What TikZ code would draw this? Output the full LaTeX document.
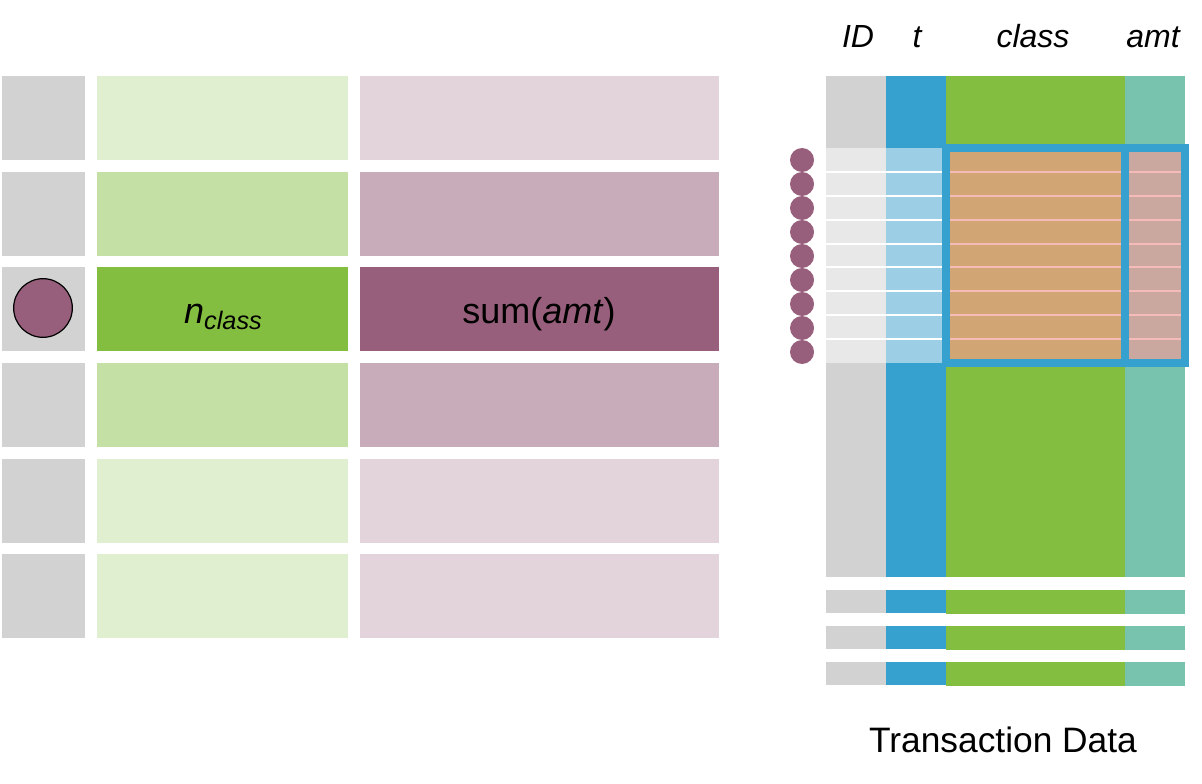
\documentclass[tikz,border=0pt]{standalone}
\usepackage{fontspec}
\setmainfont{Liberation Sans}
\usepackage{xcolor}
\definecolor{txgray}{HTML}{D2D2D2}
\definecolor{txpale}{HTML}{E8E8E8}
\definecolor{txblue}{HTML}{36A1CF}
\definecolor{txsky}{HTML}{9CCFE5}
\definecolor{txgreen}{HTML}{84BE41}
\definecolor{txteal}{HTML}{77C3AE}
\definecolor{txorange}{HTML}{D1A574}
\definecolor{txrose}{HTML}{CBA89F}
\definecolor{txpink}{HTML}{F5BBB8}
\definecolor{txplum}{HTML}{975F7B}
\usepackage{tikz}

\begin{document}
\begin{tikzpicture}[x=0.75pt, y=-0.75pt, every node/.style={inner sep=0pt},
  hdr/.style={font=\fontsize{24}{28}\selectfont\itshape, anchor=base},
  big/.style={font=\fontsize{27}{32}\selectfont, anchor=base}]
  \useasboundingbox (0,0) rectangle (1202,784);

  \foreach \y/\g/\p in {76/24/27, 172/48/52, 267/100/100,
                        363/48/52, 459/24/27, 554/24/27}{
    \fill[txgray] (2,\y) rectangle (85,\y+84);
    \fill[txgreen!\g] (97,\y) rectangle (348,\y+84);
    \fill[txplum!\p] (360,\y) rectangle (719,\y+84);
  }
  \node[circle, draw=black, line width=0.9pt, fill=txplum,
        minimum size=44pt] (cust) at (43,308) {};
  \node[big] (ncls) at (223,323)
    {\itshape n\raisebox{-4.5pt}{\fontsize{19}{22}\selectfont class}};
  \node[big] (sumamt) at (539,323) {sum(\textit{amt})};

  \fill[txgray] (826,76) rectangle (886,148);
  \fill[txpale] (826,148) rectangle (886,363);
  \fill[txgray] (826,363) rectangle (886,577);
  \fill[txblue] (886,76) rectangle (946,148);
  \fill[txsky] (886,148) rectangle (946,363);
  \fill[txblue] (886,363) rectangle (946,577);
  \fill[txgreen] (946,76) rectangle (1125,577);
  \fill[txteal] (1125,76) rectangle (1185,577);
  \fill[txorange] (946,148) rectangle (1125,363);
  \fill[txrose] (1125,148) rectangle (1185,363);
  \foreach \k in {1,...,8}{
    \draw[white, line width=1.5pt] (826,148+23.9*\k) -- (946,148+23.9*\k);
    \draw[txpink, line width=1.5pt] (946,148+23.9*\k) -- (1185,148+23.9*\k);
  }
  \draw[txblue, line width=6pt] (946,148) rectangle (1185,363);
  \draw[txblue, line width=6pt] (1125,148) -- (1125,363);
  \foreach \k in {0,...,8}
    \fill[txplum] (802,160+24*\k) circle[radius=12];

  \foreach \y in {590,626,662}{
    \fill[txgray] (826,\y) rectangle (886,\y+23);
    \fill[txblue] (886,\y) rectangle (946,\y+23);
    \fill[txgreen] (946,\y) rectangle (1125,\y+24);
    \fill[txteal] (1125,\y) rectangle (1185,\y+24);
  }

  \node[hdr] (hid) at (858,48) {ID};
  \node[hdr] (ht) at (917,48) {t};
  \node[hdr] (hclass) at (1033,48) {class};
  \node[hdr] (hamt) at (1153,48) {amt};
  \node[font=\fontsize{26.5}{31}\selectfont, anchor=base] (title)
    at (1003,752) {Transaction Data};
\end{tikzpicture}
\end{document}
